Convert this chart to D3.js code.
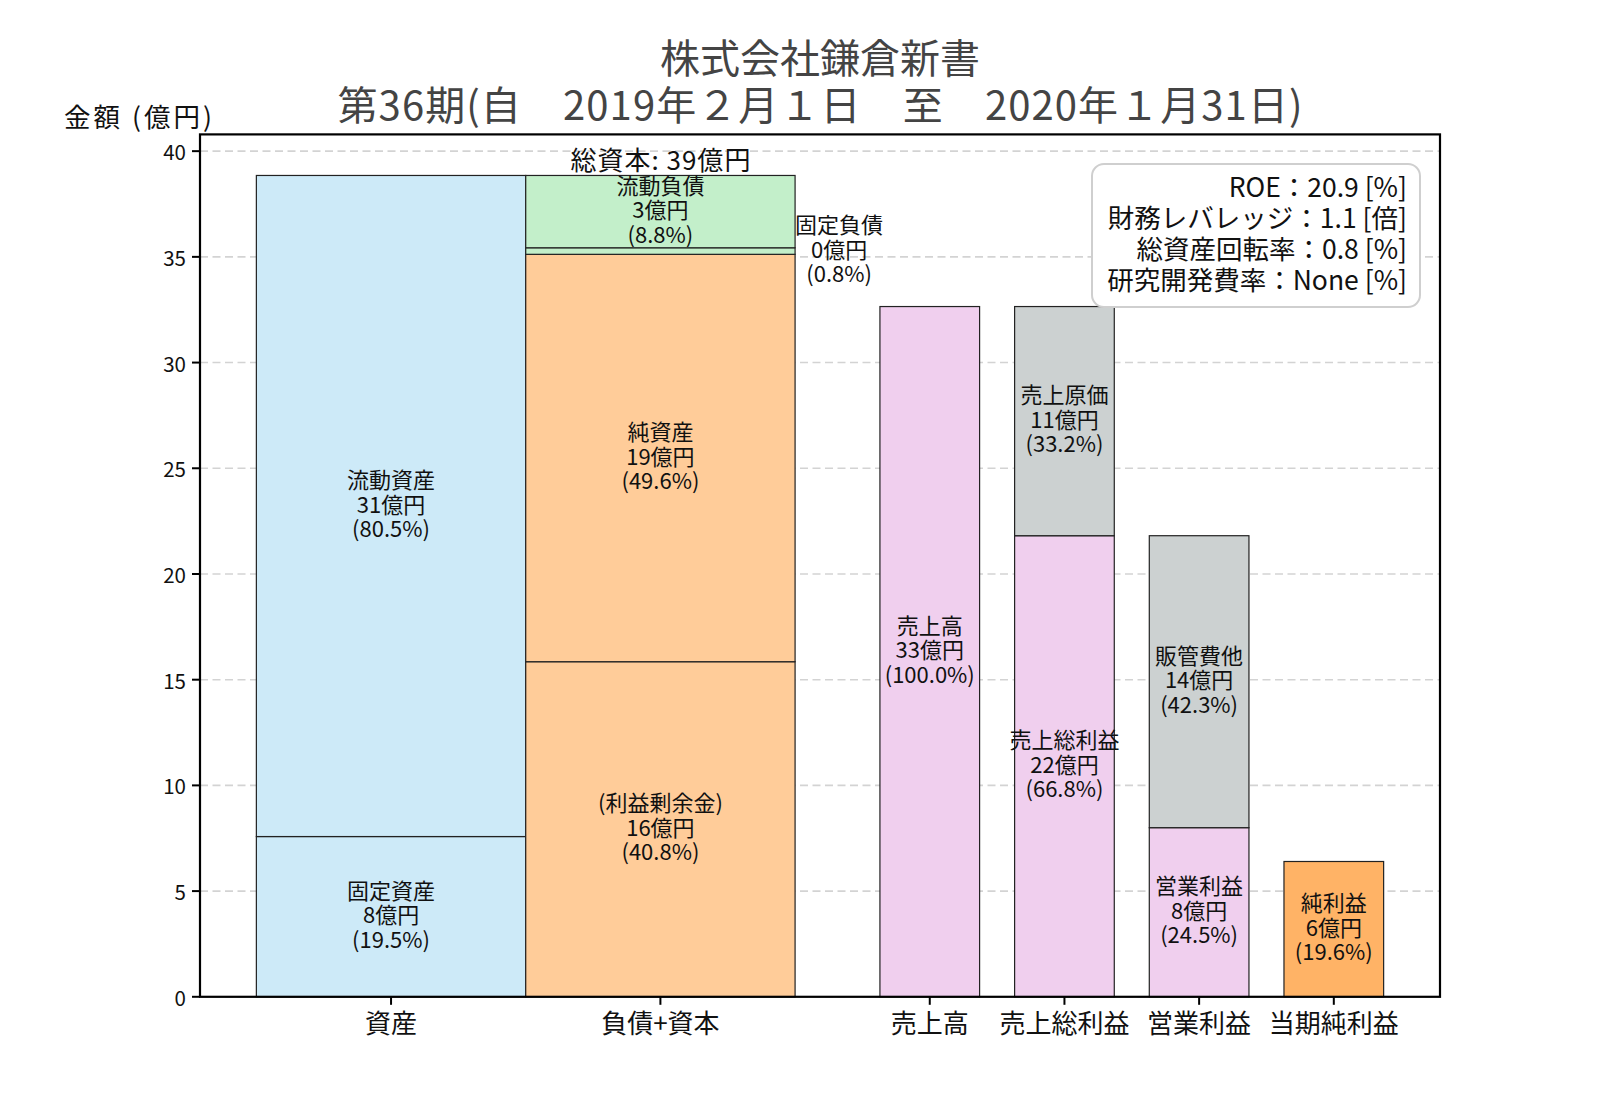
<!DOCTYPE html>
<html><head><meta charset="utf-8">
<script src="https://cdn.jsdelivr.net/npm/d3@7"></script>
<style>
html,body{margin:0;padding:0;background:#fff;}
text{font-family:"Noto Sans CJK JP","Noto Sans",sans-serif;}
</style></head>
<body>
<svg id="chart" width="1600" height="1120"></svg>
<script>
// ---- data ----
const titleLines = ["株式会社鎌倉新書", "第36期(自　2019年２月１日　至　2020年１月31日)"];
const yLabel = "金額 (億円)";
const categories = ["資産", "負債+資本", "売上高", "売上総利益", "営業利益", "当期純利益"];
// stacked segments per category (bottom to top), values in 億円
const assetNames  = ["固定資産", "流動資産"];
const assetValues = [7.58, 31.27];
const liabNames   = ["(利益剰余金)", "純資産", "固定負債", "流動負債"];
const liabValues  = [15.85, 19.27, 0.31, 3.42];
const salesNames  = ["売上高"];
const salesValues = [32.65];
const grossNames  = ["売上総利益", "売上原価"];
const grossValues = [21.81, 10.84];
const opNames     = ["営業利益", "販管費他"];
const opValues    = [8.00, 13.81];
const netNames    = ["純利益"];
const netValues   = [6.40];
const totalCapitalLabel = "総資本: 39億円";
const indicatorLines = ["ROE：20.9 [%]", "財務レバレッジ：1.1 [倍]", "総資産回転率：0.8 [%]", "研究開発費率：None [%]"];

// ---- style ----
const C = {blue:"#cdeaf8", orange:"#ffcc99", green:"#c3efca", pink:"#f0cfee", gray:"#ccd1d1", net:"#ffb366"};
const colAssets = [C.blue, C.blue];
const colLiab = [C.orange, C.orange, C.green, C.green];
const colGross = [C.pink, C.gray];
const colOp = [C.pink, C.gray];

const balanceTotal = d3.sum(assetValues);
const salesTotal = salesValues[0];

const columns = [
  {cat:categories[0], pos:0,   w:1,    names:assetNames, vals:assetValues, cols:colAssets, base:balanceTotal},
  {cat:categories[1], pos:1,   w:1,    names:liabNames,  vals:liabValues,  cols:colLiab,   base:balanceTotal},
  {cat:categories[2], pos:2,   w:0.37, names:salesNames, vals:salesValues, cols:[C.pink],  base:salesTotal},
  {cat:categories[3], pos:2.5, w:0.37, names:grossNames, vals:grossValues, cols:colGross,  base:salesTotal},
  {cat:categories[4], pos:3,   w:0.37, names:opNames,    vals:opValues,    cols:colOp,     base:salesTotal},
  {cat:categories[5], pos:3.5, w:0.37, names:netNames,   vals:netValues,   cols:[C.net],   base:salesTotal}
];

const svg = d3.select("#chart");
const L = 200, R = 1440, T = 134.4, B = 996.8;

const xmin = d3.min(columns, c => c.pos - c.w/2), xmax = d3.max(columns, c => c.pos + c.w/2);
const xm = (xmax - xmin) * 0.05;
const x = d3.scaleLinear().domain([xmin - xm, xmax + xm]).range([L, R]);
const ymaxData = d3.max(columns, c => d3.sum(c.vals));
const y = d3.scaleLinear().domain([0, ymaxData * 1.05]).range([B, T]);

// grid
const yTicks = d3.range(0, 41, 5);
svg.append("g").selectAll("line").data(yTicks).join("line")
  .attr("x1", L).attr("x2", R).attr("y1", d => y(d)).attr("y2", d => y(d))
  .attr("stroke", "#d3d3d3").attr("stroke-width", 1.6).attr("stroke-dasharray", "8,4.5");

// bars
const segs = [];
columns.forEach(c => {
  let acc = 0;
  c.vals.forEach((v, i) => { segs.push({c, i, y0:acc, y1:acc+v, v, name:c.names[i], color:c.cols[i]}); acc += v; });
});
svg.append("g").selectAll("rect").data(segs).join("rect")
  .attr("x", d => x(d.c.pos - d.c.w/2)).attr("width", d => x(d.c.pos + d.c.w/2) - x(d.c.pos - d.c.w/2))
  .attr("y", d => y(d.y1)).attr("height", d => y(d.y0) - y(d.y1))
  .attr("fill", d => d.color).attr("stroke", "#222").attr("stroke-width", 1.2);

// labels
const fs = 22, lh = 24.6;
function block(cx, cy, lines, size, lhh, anchor) {
  const t = svg.append("text").attr("font-size", size).attr("text-anchor", anchor || "middle").attr("fill", "#111");
  lines.forEach((s, i) => t.append("tspan").attr("x", cx).attr("y", cy + (i - (lines.length-1)/2) * lhh)
    .attr("dominant-baseline", "central").text(s));
  return t;
}
segs.forEach(d => {
  const lines = [d.name, Math.round(d.v) + "億円", "(" + (d.v / d.c.base * 100).toFixed(1) + "%)"];
  const cy = y((d.y0 + d.y1) / 2) - 3.5;
  if (d.y1 - d.y0 < 1) {
    // thin segment: label outside to the right of the column
    const cx = x(d.c.pos + d.c.w/2) + 2 * fs;
    block(cx, cy, lines, fs, lh);
  } else {
    block(x(d.c.pos), cy, lines, fs, lh);
  }
});

// total capital label
svg.append("text").attr("x", x(1)).attr("y", y(balanceTotal) - 5).attr("text-anchor", "middle")
  .attr("font-size", 26).attr("fill", "#111").attr("textLength", 180).attr("lengthAdjust", "spacing").text(totalCapitalLabel);

// axes frame
svg.append("rect").attr("x", L).attr("y", T).attr("width", R-L).attr("height", B-T)
  .attr("fill", "none").attr("stroke", "#000").attr("stroke-width", 2.2);

// y axis ticks
const ya = svg.append("g");
yTicks.forEach(t => {
  ya.append("line").attr("x1", L - 8).attr("x2", L).attr("y1", y(t)).attr("y2", y(t)).attr("stroke", "#000").attr("stroke-width", 2);
  ya.append("text").attr("x", L - 14).attr("y", y(t)).attr("dominant-baseline", "central").attr("text-anchor", "end")
    .attr("font-size", 20.5).attr("fill", "#111").text(t);
});
// x axis ticks
columns.forEach(c => {
  svg.append("line").attr("x1", x(c.pos)).attr("x2", x(c.pos)).attr("y1", B).attr("y2", B + 8).attr("stroke", "#000").attr("stroke-width", 2);
  svg.append("text").attr("x", x(c.pos)).attr("y", B + 36).attr("text-anchor", "middle").attr("font-size", 26)
    .attr("fill", "#111").text(c.cat);
});

// y label
svg.append("text").attr("x", 138).attr("y", 127).attr("text-anchor", "middle").attr("font-size", 26.5)
  .attr("textLength", 148).attr("lengthAdjust", "spacing").attr("fill", "#111").text(yLabel);

// title
svg.append("text").attr("x", (L + R) / 2).attr("y", 73).attr("text-anchor", "middle")
  .attr("font-size", 40).attr("fill", "#444").text(titleLines[0]);
svg.append("text").attr("x", (L + R) / 2).attr("y", 120).attr("text-anchor", "middle")
  .attr("font-size", 40).attr("fill", "#444").attr("textLength", 965).attr("lengthAdjust", "spacing").text(titleLines[1]);

// indicator box
svg.append("rect").attr("x", 1092).attr("y", 164).attr("width", 328).attr("height", 143).attr("rx", 12)
  .attr("fill", "#fff").attr("stroke", "#cfcfcf").attr("stroke-width", 2);
block(1407, 231.5, indicatorLines, 26.5, 31, "end");
</script>
</body></html>
